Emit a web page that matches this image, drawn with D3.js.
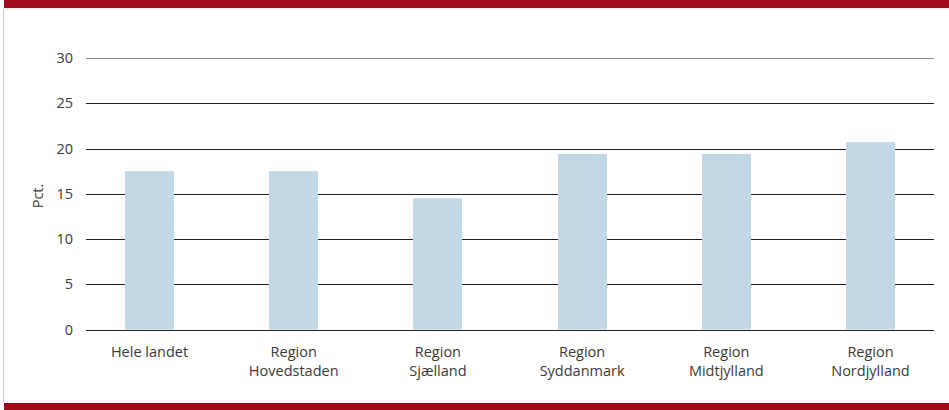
<!DOCTYPE html>
<html><head><meta charset="utf-8">
<script src="https://cdn.jsdelivr.net/npm/d3@7"></script>
<style>body{margin:0;background:#fff}svg{display:block}</style>
</head><body>
<svg id="c" width="949" height="410"></svg>
<script>
const categories = [["Hele landet"],["Region","Hovedstaden"],["Region","Sjælland"],["Region","Syddanmark"],["Region","Midtjylland"],["Region","Nordjylland"]];
const values = [17.5, 17.5, 14.5, 19.4, 19.4, 20.7];
const yTicks = [0,5,10,15,20,25,30];
const yLabel = "Pct.";

const svg = d3.select("#c");
const W=949,H=410;
// frame
svg.append("rect").attr("x",4).attr("y",0).attr("width",W-4).attr("height",8).attr("fill","#a00a1a");
svg.append("line").attr("x1",4).attr("x2",W).attr("y1",9).attr("y2",9).attr("stroke","#ddd").attr("stroke-width",1);
svg.append("line").attr("x1",3.5).attr("x2",3.5).attr("y1",9).attr("y2",403).attr("stroke","#ccc").attr("stroke-width",1);
svg.append("rect").attr("x",4).attr("y",403).attr("width",W-4).attr("height",7).attr("fill","#a00a1a");

const y = d3.scaleLinear().domain([0,30]).range([329.5,58]);
const x = d3.scaleBand().domain(d3.range(categories.length)).range([77.4,942.6]).paddingInner(0.66).paddingOuter(0.33);
const gx0=86, gx1=934;
const font="'Open Sans', 'Noto Sans', sans-serif";
const fs=14.5, tc="#3a3a3a";

// grid
svg.append("g").selectAll("line").data(yTicks).join("line")
  .attr("x1",gx0).attr("x2",gx1)
  .attr("y1",d=>Math.round(y(d))+0.5).attr("y2",d=>Math.round(y(d))+0.5)
  .attr("stroke",d=>d===30?"#888":"#222").attr("stroke-width",1);
svg.append("g").selectAll("text").data(yTicks).join("text")
  .attr("x",73).attr("y",d=>y(d)).attr("dy","0.35em").attr("text-anchor","end")
  .attr("font-family",font).attr("font-size",fs).attr("fill",tc).text(d=>d);

// bars
const bw=49;
svg.append("g").selectAll("rect").data(values).join("rect")
  .attr("x",(d,i)=>Math.round(x(i)+x.bandwidth()/2-bw/2)).attr("width",bw)
  .attr("y",d=>y(d)).attr("height",d=>y(0)-y(d)).attr("fill","#c2d9e5");
// redraw baseline on top
svg.append("line").attr("x1",gx0).attr("x2",gx1).attr("y1",Math.round(y(0))+0.5).attr("y2",Math.round(y(0))+0.5).attr("stroke","#222");

// x labels
const xl = svg.append("g").selectAll("text").data(categories).join("text")
  .attr("x",(d,i)=>x(i)+x.bandwidth()/2).attr("y",357).attr("text-anchor","middle")
  .attr("font-family",font).attr("font-size",fs).attr("fill",tc);
xl.selectAll("tspan").data(d=>d).join("tspan")
  .attr("x",function(){return d3.select(this.parentNode).attr("x");})
  .attr("dy",(d,i)=>i===0?0:19).text(d=>d);

svg.append("text").attr("transform","translate(43,196) rotate(-90)").attr("text-anchor","middle")
  .attr("font-family",font).attr("font-size",fs).attr("fill",tc).text(yLabel);
</script>
</body></html>
